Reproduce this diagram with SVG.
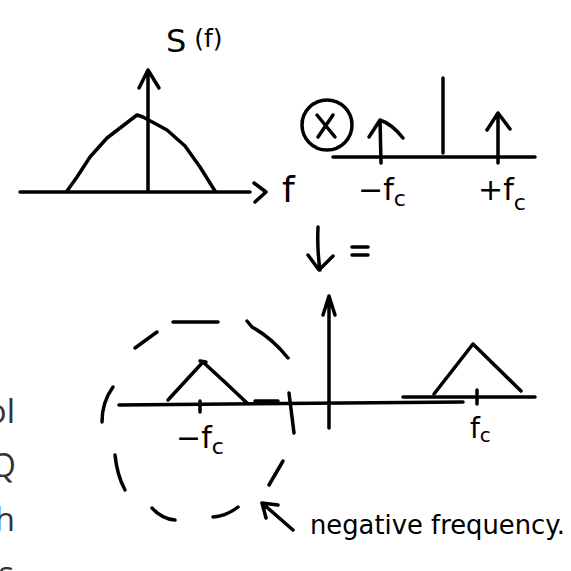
<svg xmlns="http://www.w3.org/2000/svg" width="571" height="571" viewBox="0 0 571 571">
<style>
.s{fill:none;stroke:#000;stroke-width:3.5;stroke-linecap:round;stroke-linejoin:round}
.t{font-family:"DejaVu Sans","Liberation Sans",sans-serif;fill:#000}
.g{font-family:"Open Sans","Liberation Sans",sans-serif;fill:#333;font-size:33px}
</style>
<rect width="571" height="571" fill="#fff"/>
<g id="side-text">
<text class="g" x="15" y="423" text-anchor="end">ol</text>
<text class="g" x="16" y="477" text-anchor="end">Q</text>
<text class="g" x="15" y="531" text-anchor="end">h</text>
<text class="g" x="14" y="585" text-anchor="end">s</text>
</g>
<g id="spectrum-s">
<path class="s" d="M20 192 L250 192 M254 183 L266 192 L255 202"/>
<path class="s" d="M148 190 L148 70 M139 88 L148 70 L159 88"/>
<path class="s" d="M67 191 L77 177 L90 157 L107 138 L137 115 L143 117 L167 130 L185 146 L200 167 L215 191"/>
<text class="t" x="166" y="52" font-size="32">S<tspan font-size="25" dx="8" dy="-5">(f)</tspan></text>
<text class="t" x="282" y="202" font-size="36">f</text>
</g>
<g id="carrier">
<circle class="s" cx="327" cy="125" r="25"/>
<path class="s" d="M317 115 L335 137 M333 115 L318 137"/>
<path class="s" d="M333 157 L535 157"/>
<path class="s" d="M443 78 L443 153"/>
<path class="s" d="M381 163 L380 120 M369 137 L380 120 Q392 124 403 138"/>
<path class="s" d="M498 163 L498 113 M487 130 L498 113 L510 129"/>
<text class="t" x="358" y="200" font-size="30">−f<tspan font-size="22" dy="6">c</tspan></text>
<text class="t" x="478" y="200" font-size="30">+f<tspan font-size="22" dy="10">c</tspan></text>
</g>
<g id="connectors">
<path class="s" d="M318 227 Q317 250 320 270 M308 255 L319 270 L333 256"/>
<path class="s" d="M352 247 L368 247 M352 255 L368 255"/>
<path class="s" d="M293 530 L262 503 M266 518 L262 503 L278 505"/>
</g>
<g id="result">
<path class="s" d="M119 405 L463 402"/>
<path class="s" d="M255 401 L278 401" stroke-width="5"/>
<path class="s" d="M403 397 L535 397"/>
<path class="s" d="M329 428 L329 296 M323 315 L329 296 L335 315"/>
<path class="s" d="M168 400 L203 362 Q225 382 247 403 M200 361 L206 362"/>
<path class="s" d="M434 394 L473 344 L521 391"/>
<path class="s" d="M200 401 L200 412"/>
<path class="s" d="M477 390 L477 404" stroke-width="5"/>
<path class="s" d="M289 393 L294 433"/>
<text class="t" x="176" y="448" font-size="30">−f<tspan font-size="22" dy="6">c</tspan></text>
<text class="t" x="470" y="438" font-size="28">f<tspan font-size="20" dy="4">c</tspan></text>
</g>
<g id="negative-region">
<path class="s" d="M173 322 L218 322"/>
<path class="s" d="M135 348 L157 332"/>
<path class="s" d="M247 321 L252 327 Q272 338 288 358"/>
<path class="s" d="M113 387 Q102 402 102 422"/>
<path class="s" d="M115 455 Q117 475 125 490"/>
<path class="s" d="M152 508 Q162 519 175 520"/>
<path class="s" d="M213 517 Q227 516 238 507"/>
<path class="s" d="M283 461 L269 485"/>
<text class="t" x="310" y="534" font-size="26" textLength="255" lengthAdjust="spacingAndGlyphs">negative frequency.</text>
</g>
</svg>
